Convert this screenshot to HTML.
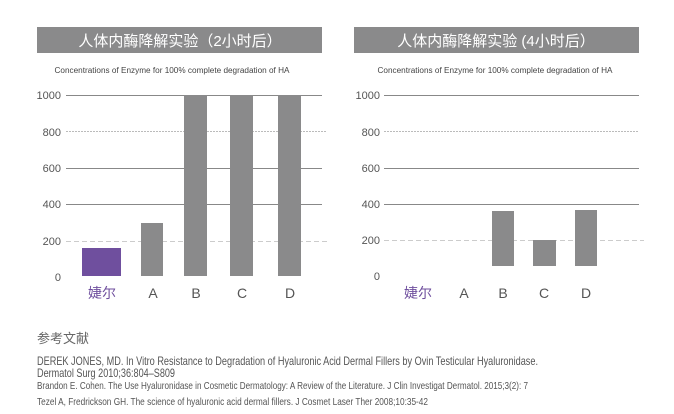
<!DOCTYPE html>
<html><head><meta charset="utf-8"><style>
html,body{margin:0;padding:0;background:#fff;}
svg{display:block;}
text{font-family:"Liberation Sans","Noto Sans CJK SC",sans-serif;}
</style></head><body>
<svg width="674" height="414" xmlns="http://www.w3.org/2000/svg">
<rect x="37" y="27" width="285" height="26" fill="#8a8a8b"/>
<text x="180" y="46" font-size="15" fill="#fff" text-anchor="middle">人体内酶降解实验（2小时后）</text>
<text x="172" y="73" font-size="8" fill="#444" text-anchor="middle" textLength="235" lengthAdjust="spacingAndGlyphs">Concentrations of Enzyme for 100% complete degradation of HA</text>
<g stroke="#888" stroke-width="1">
<line x1="66" y1="95.5" x2="322" y2="95.5"/>
<line x1="66" y1="131.5" x2="327" y2="131.5" stroke-dasharray="2,1" stroke="#bbb"/>
<line x1="66" y1="168.5" x2="322" y2="168.5"/>
<line x1="66" y1="204.5" x2="322" y2="204.5"/>
<line x1="66" y1="241.5" x2="327" y2="241.5" stroke-dasharray="5,3" stroke="#ccc"/>
</g>
<g font-size="11" fill="#555" text-anchor="end">
<text x="61" y="99">1000</text><text x="61" y="136">800</text><text x="61" y="172">600</text>
<text x="61" y="208">400</text><text x="61" y="245">200</text><text x="61" y="281">0</text>
</g>
<rect x="82" y="248" width="39" height="28" fill="#6f4f9e"/>
<rect x="141" y="223" width="22" height="53" fill="#8a8a8b"/>
<rect x="184" y="95" width="23" height="181" fill="#8a8a8b"/>
<rect x="230" y="95" width="23" height="181" fill="#8a8a8b"/>
<rect x="278" y="95" width="23" height="181" fill="#8a8a8b"/>
<g font-size="14" fill="#555" text-anchor="middle">
<text x="102" y="298" fill="#6f4f9e">婕尔</text>
<text x="153" y="298">A</text><text x="196" y="298">B</text><text x="242" y="298">C</text><text x="290" y="298">D</text>
</g>
<rect x="354" y="27" width="285" height="26" fill="#8a8a8b"/>
<text x="496" y="46" font-size="15" fill="#fff" text-anchor="middle">人体内酶降解实验 (4小时后）</text>
<text x="495" y="73" font-size="8" fill="#444" text-anchor="middle" textLength="235" lengthAdjust="spacingAndGlyphs">Concentrations of Enzyme for 100% complete degradation of HA</text>
<g stroke="#888" stroke-width="1">
<line x1="384" y1="95.5" x2="639" y2="95.5"/>
<line x1="384" y1="131.5" x2="639" y2="131.5" stroke-dasharray="2,1" stroke="#bbb"/>
<line x1="384" y1="168.5" x2="639" y2="168.5"/>
<line x1="384" y1="204.5" x2="639" y2="204.5"/>
<line x1="384" y1="240.5" x2="644" y2="240.5" stroke-dasharray="5,3" stroke="#ccc"/>
</g>
<g font-size="11" fill="#555" text-anchor="end">
<text x="380" y="99">1000</text><text x="380" y="136">800</text><text x="380" y="172">600</text>
<text x="380" y="208">400</text><text x="380" y="244">200</text><text x="380" y="280">0</text>
</g>
<rect x="492" y="211" width="22" height="55" fill="#8a8a8b"/>
<rect x="533" y="240" width="23" height="26" fill="#8a8a8b"/>
<rect x="575" y="210" width="22" height="56" fill="#8a8a8b"/>
<g font-size="14" fill="#555" text-anchor="middle">
<text x="418" y="298" fill="#6f4f9e">婕尔</text>
<text x="464" y="298">A</text><text x="503" y="298">B</text><text x="544" y="298">C</text><text x="586" y="298">D</text>
</g>
<text x="37" y="343" font-size="13" fill="#666">参考文献</text>
<g fill="#555">
<text x="37" y="365" font-size="12" textLength="501" lengthAdjust="spacingAndGlyphs">DEREK JONES, MD. In Vitro Resistance to Degradation of Hyaluronic Acid Dermal Fillers by Ovin Testicular Hyaluronidase.</text>
<text x="37" y="377" font-size="12" textLength="138" lengthAdjust="spacingAndGlyphs">Dermatol Surg 2010;36:804–S809</text>
<text x="37" y="389" font-size="10.5" textLength="491" lengthAdjust="spacingAndGlyphs">Brandon E. Cohen. The Use Hyaluronidase in Cosmetic Dermatology: A Review of the Literature. J Clin Investigat Dermatol. 2015;3(2): 7</text>
<text x="37" y="405" font-size="10.5" textLength="391" lengthAdjust="spacingAndGlyphs">Tezel A, Fredrickson GH. The science of hyaluronic acid dermal fillers. J Cosmet Laser Ther 2008;10:35-42</text>
</g>
</svg>
</body></html>
